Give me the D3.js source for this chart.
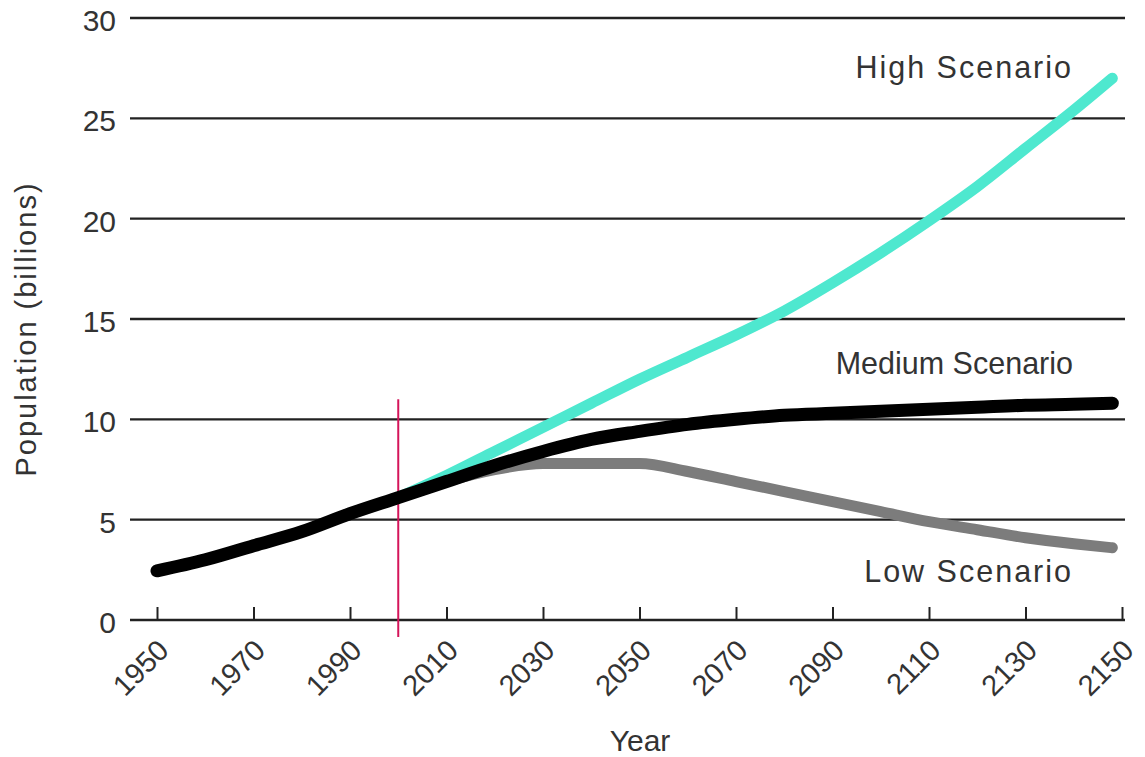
<!DOCTYPE html>
<html>
<head>
<meta charset="utf-8">
<script src="https://cdn.jsdelivr.net/npm/d3@7"></script>
<style>
  body { margin: 0; background: #fff; }
  text { font-family: "Liberation Sans", Arial, Helvetica, sans-serif; fill: #333; }
</style>
</head>
<body>
<svg id="chart" width="1145" height="757"></svg>
<script>
// data (billions)
var years = [1950, 1960, 1970, 1980, 1990, 2000, 2010, 2020, 2030, 2040, 2050, 2060, 2070, 2080, 2090, 2100, 2110, 2120, 2130, 2140, 2148];
var medium = [2.45, 3.0, 3.7, 4.4, 5.3, 6.1, 6.9, 7.7, 8.4, 9.0, 9.4, 9.75, 10.0, 10.2, 10.3, 10.4, 10.5, 10.6, 10.7, 10.75, 10.8];
var highYears = [2000, 2010, 2020, 2030, 2040, 2050, 2060, 2070, 2080, 2090, 2100, 2110, 2120, 2130, 2140, 2148];
var high = [6.1, 7.2, 8.4, 9.6, 10.8, 12.0, 13.1, 14.2, 15.4, 16.8, 18.3, 19.9, 21.6, 23.5, 25.4, 27.0];
var low = [6.1, 6.9, 7.5, 7.8, 7.8, 7.8, 7.4, 6.9, 6.4, 5.9, 5.4, 4.9, 4.5, 4.1, 3.8, 3.6];
var xTicks = [1950, 1970, 1990, 2010, 2030, 2050, 2070, 2090, 2110, 2130, 2150];
var yTicks = [0, 5, 10, 15, 20, 25, 30];
var scenarioNames = ["High Scenario", "Medium Scenario", "Low Scenario"];
var markYear = 2000;

var svg = d3.select("#chart");

var x = d3.scaleLinear().domain([1950, 2150]).range([157, 1122]);
var y = d3.scaleLinear().domain([0, 30]).range([620, 18]);

// horizontal gridlines
svg.append("g").selectAll("line")
    .data(yTicks)
    .enter().append("line")
    .attr("x1", 130).attr("x2", 1125)
    .attr("y1", function(d) { return y(d); })
    .attr("y2", function(d) { return y(d); })
    .attr("stroke", "#222")
    .attr("stroke-width", 2.4);

// y tick labels
svg.append("g").selectAll("text")
    .data(yTicks)
    .enter().append("text")
    .attr("x", 116)
    .attr("y", function(d) { return y(d) + 13; })
    .attr("text-anchor", "end")
    .style("font-size", "30px")
    .text(function(d) { return d; });

// x axis ticks (pointing up) and rotated labels
var xAxis = d3.axisBottom(x).tickValues(xTicks).tickSize(-13).tickFormat(d3.format("d"));
var gx = svg.append("g").attr("transform", "translate(0," + y(0) + ")").call(xAxis);
gx.select(".domain").remove();
gx.selectAll(".tick line").attr("stroke", "#222").attr("stroke-width", 2);
gx.selectAll(".tick text")
    .attr("y", 0).attr("dy", 0)
    .attr("transform", "translate(13,32) rotate(-45)")
    .attr("text-anchor", "end")
    .style("font-size", "29px")
    .style("font-family", "\"Liberation Sans\", Arial, sans-serif")
    .attr("fill", "#333");

// 2000 marker line
svg.append("line")
    .attr("x1", x(markYear)).attr("x2", x(markYear))
    .attr("y1", y(11)).attr("y2", 637)
    .attr("stroke", "#d4145a")
    .attr("stroke-width", 2);

var line = d3.line()
    .x(function(d) { return x(d[0]); })
    .y(function(d) { return y(d[1]); })
    .curve(d3.curveMonotoneX);

svg.append("path")
    .datum(d3.zip(highYears, high))
    .attr("d", line)
    .attr("fill", "none")
    .attr("stroke", "#4ee8cf")
    .attr("stroke-width", 11)
    .attr("stroke-linecap", "round");

svg.append("path")
    .datum(d3.zip(highYears, low))
    .attr("d", line)
    .attr("fill", "none")
    .attr("stroke", "#7c7c7c")
    .attr("stroke-width", 11)
    .attr("stroke-linecap", "round");

svg.append("path")
    .datum(d3.zip(years, medium))
    .attr("d", line)
    .attr("fill", "none")
    .attr("stroke", "#000")
    .attr("stroke-width", 13)
    .attr("stroke-linecap", "round");

// scenario labels
var labelY = [78, 374, 582];
var labelSpacing = [2, 0, 2];
svg.append("g").selectAll("text")
    .data(scenarioNames)
    .enter().append("text")
    .attr("x", 1073)
    .attr("y", function(d, i) { return labelY[i]; })
    .attr("text-anchor", "end")
    .style("font-size", "30.5px")
    .style("letter-spacing", function(d, i) { return labelSpacing[i] + "px"; })
    .text(function(d) { return d; });

// axis titles
svg.append("text")
    .attr("x", 640).attr("y", 751)
    .attr("text-anchor", "middle")
    .style("font-size", "30px")
    .text("Year");

svg.append("text")
    .attr("transform", "translate(36,329) rotate(-90)")
    .attr("text-anchor", "middle")
    .style("font-size", "29px")
    .style("letter-spacing", "2px")
    .text("Population (billions)");
</script>
</body>
</html>
